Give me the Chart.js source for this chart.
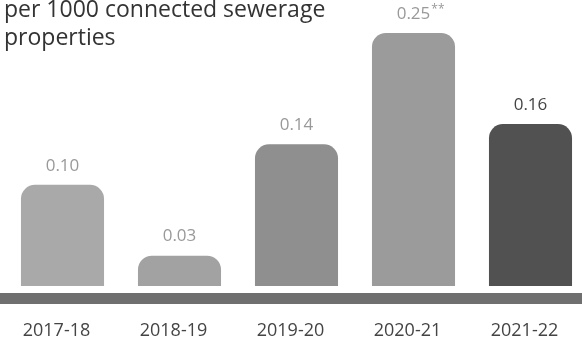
<!DOCTYPE html>
<html>
<head>
<meta charset="utf-8">
<script src="https://cdn.jsdelivr.net/npm/chart.js@4"></script>
<style>
    html, body { margin: 0; padding: 0; background: #fff; overflow: hidden; }
    #wrap { position: relative; width: 589px; height: 340px; }
</style>
</head>
<body>
<div id="wrap"><canvas id="grafico"></canvas></div>
<script>
// dados do gráfico
const categorias = ['2017-18', '2018-19', '2019-20', '2020-21', '2021-22'];
const valores = [0.10, 0.03, 0.14, 0.25, 0.16];
const notas = ['', '', '', '**', ''];
const titulo = ['per 1000 connected sewerage', 'properties'];

const coresBarras = ['#a9a9a9', '#a2a2a2', '#8f8f8f', '#9b9b9b', '#515151'];
const coresRotulos = ['#999999', '#999999', '#999999', '#999999', '#444444'];

// título cortado no topo + faixa cinza abaixo das barras
const decoracao = {
    id: 'decoracao',
    beforeDatasetsDraw(chart) {
        const ctx = chart.ctx;
        ctx.save();
        ctx.fillStyle = '#6f6f6f';
        ctx.fillRect(0, chart.chartArea.bottom + 7, chart.width, 11);
        ctx.fillStyle = '#333333';
        ctx.font = '23px "Open Sans"';
        ctx.textAlign = 'left';
        ctx.textBaseline = 'alphabetic';
        ctx.fillText(titulo[0], 4, 17);
        ctx.fillText(titulo[1], 4, 45);
        ctx.restore();
    },
    afterDatasetsDraw(chart) {
        const ctx = chart.ctx;
        const meta = chart.getDatasetMeta(0);
        ctx.save();
        ctx.textBaseline = 'middle';
        meta.data.forEach((bar, i) => {
            const texto = valores[i].toFixed(2);
            ctx.font = '17px "Open Sans"';
            const w = ctx.measureText(texto).width;
            ctx.font = '12px "Open Sans"';
            const wn = notas[i] ? ctx.measureText(notas[i]).width : 0;
            const x0 = bar.x - (w + wn) / 2 + (notas[i] ? wn / 2 : 0);
            const y = bar.y - 19;
            ctx.fillStyle = coresRotulos[i];
            ctx.textAlign = 'left';
            ctx.font = '17px "Open Sans"';
            ctx.fillText(texto, x0, y);
            if (notas[i]) {
                ctx.font = '12px "Open Sans"';
                ctx.fillText(notas[i], x0 + w + 1, y - 4);
            }
        });
        ctx.restore();
    }
};

new Chart(document.getElementById('grafico'), {
    type: 'bar',
    data: {
        labels: categorias,
        datasets: [{
            data: valores,
            backgroundColor: coresBarras,
            borderRadius: { topLeft: 14, topRight: 14, bottomLeft: 0, bottomRight: 0 },
            borderSkipped: 'bottom',
            barPercentage: 0.71,
            categoryPercentage: 1.0
        }]
    },
    options: {
        responsive: true,
        maintainAspectRatio: false,
        animation: false,
        layout: {
            padding: { left: 4, right: 0, top: 33, bottom: 0 }
        },
        plugins: {
            legend: { display: false },
            tooltip: { enabled: false }
        },
        scales: {
            y: {
                display: false,
                min: 0,
                max: 0.25
            },
            x: {
                grid: {
                    display: true,
                    drawOnChartArea: false,
                    drawTicks: true,
                    tickLength: 36,
                    color: 'rgba(0,0,0,0)'
                },
                border: { display: false },
                ticks: {
                    color: '#444444',
                    padding: 0,
                    labelOffset: -6,
                    font: { family: 'Open Sans', size: 18, lineHeight: 1 }
                }
            }
        }
    },
    plugins: [decoracao]
});
</script>
</body>
</html>
